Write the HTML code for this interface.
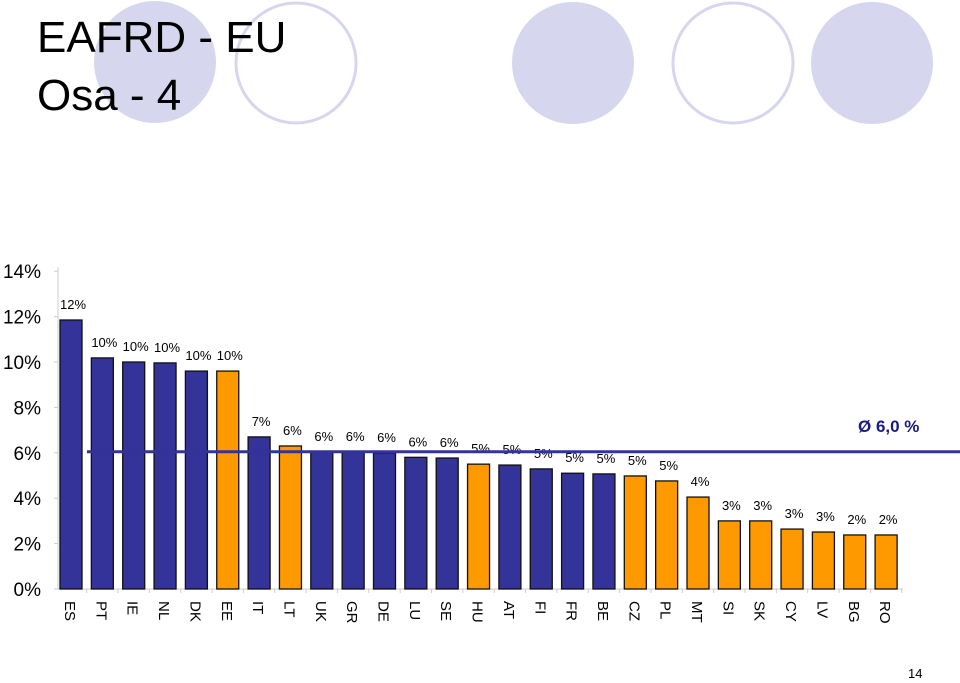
<!DOCTYPE html>
<html><head><meta charset="utf-8"><style>
body{margin:0;background:#fff;width:960px;height:678px;overflow:hidden;font-family:"Liberation Sans",Arial,sans-serif}
</style></head><body>
<svg width="960" height="678" viewBox="0 0 960 678">
<g>
<circle cx="155" cy="62" r="61" fill="#d6d6ee"/>
<circle cx="296" cy="63" r="60" fill="none" stroke="#d6d6ee" stroke-width="3"/>
<circle cx="573" cy="63" r="61" fill="#d6d6ee"/>
<circle cx="733" cy="63" r="60" fill="none" stroke="#d6d6ee" stroke-width="3"/>
<circle cx="872" cy="63" r="61" fill="#d6d6ee"/>
</g>
<text x="37" y="52" font-size="44" fill="#000">EAFRD - EU</text>
<text x="37" y="110" font-size="44" fill="#000">Osa - 4</text>
<g id="chart"></g>
<text x="908" y="678" font-size="13">14</text>
</svg>
<script>
const categories=["ES","PT","IE","NL","DK","EE","IT","LT","UK","GR","DE","LU","SE","HU","AT","FI","FR","BE","CZ","PL","MT","SI","SK","CY","LV","BG","RO"];
const values=[11.85,10.18,10.0,9.96,9.6,9.6,6.7,6.3,6.04,6.04,5.99,5.8,5.77,5.5,5.46,5.29,5.1,5.07,4.98,4.76,4.05,3.0,3.0,2.64,2.51,2.38,2.38];
const valueLabels=["12%","10%","10%","10%","10%","10%","7%","6%","6%","6%","6%","6%","6%","5%","5%","5%","5%","5%","5%","5%","4%","3%","3%","3%","3%","2%","2%"];
const highlighted=[0,0,0,0,0,1,0,1,0,0,0,0,0,1,0,0,0,0,1,1,1,1,1,1,1,1,1];
const yTicks=[0,2,4,6,8,10,12,14];
const average=6.0;
const averageLabel="Ø 6,0 %";
const NS="http://www.w3.org/2000/svg";
const g=document.getElementById('chart');
const y0=589,pxPer=22.7,x0=58,slot=31.35,bw=22;
function y(v){return y0-v*pxPer;}
function xc(i){return 71+i*slot;}
function el(t,a){const e=document.createElementNS(NS,t);for(const k in a)e.setAttribute(k,a[k]);g.appendChild(e);return e;}
const ax=el('line',{x1:x0,y1:y(14)-4,x2:x0,y2:y0,stroke:'#ccc','stroke-width':1});


const xa=el('line',{x1:x0,y1:y0,x2:903,y2:y0,stroke:'#ccc','stroke-width':1});


yTicks.forEach(t=>{
 const tk=el('line',{x1:x0-4,y1:y(t),x2:x0,y2:y(t),stroke:'#ccc'});
 
 
 const tx=el('text',{x:41,y:y(t)+7,'font-size':19,'text-anchor':'end'});
 tx.textContent=t+'%';
 
 
});
categories.forEach((c,i)=>{
 const v=values[i];
 const r=el('rect',{x:xc(i)-bw/2,y:y(v),width:bw,height:y0-y(v),fill:highlighted[i]?'#ff9900':'#333399',stroke:'#111','stroke-width':1.3});
 
 
 const tl=el('line',{x1:xc(i)+slot/2,y1:y0,x2:xc(i)+slot/2,y2:y0+4,stroke:'#ccc'});
 
 
 const lb=el('text',{x:xc(i)+2,y:y(v)-11,'font-size':13,'text-anchor':'middle'});
 lb.textContent=valueLabels[i];
 
 
 const xl=el('text',{transform:`translate(${xc(i)-6},601) rotate(90)`,'font-size':15});
 xl.textContent=c;
 
 
});
const al=el('line',{x1:87,y1:y(average)-1,x2:960,y2:y(average)-1,stroke:'#333399','stroke-width':3});


const at=el('text',{x:858,y:432,'font-size':17,'font-weight':'bold',fill:'#1a1a80'});
at.textContent=averageLabel;


</script>
</body></html>
